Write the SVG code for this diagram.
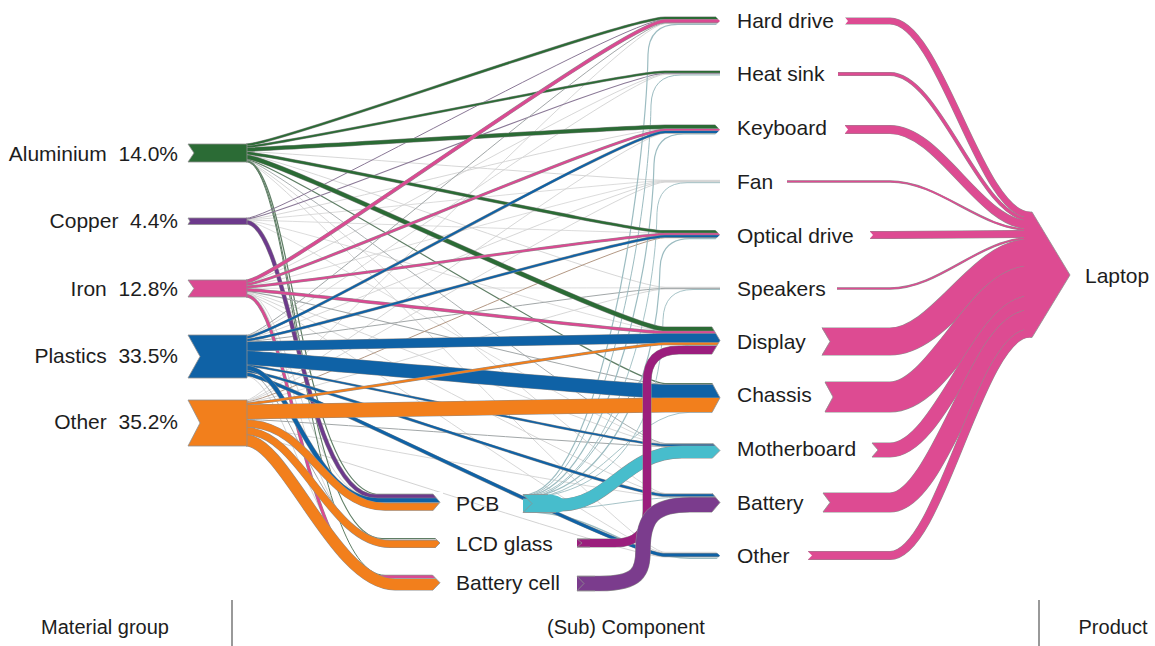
<svg xmlns="http://www.w3.org/2000/svg" xmlns:xlink="http://www.w3.org/1999/xlink" width="1155" height="646" viewBox="0 0 1155 646">
<style>
.k{fill:none}
.o{stroke:#8f8f8f}
.al{stroke:#2b6b35}.cu{stroke:#6d3a8c}.fe{stroke:#da4a92}.pl{stroke:#0f62a6}.ot{stroke:#f27f1c}
.pcb{stroke:#47bdcc}.lcd{stroke:#9b1e7d}.bc{stroke:#7b3c8d}.lap{stroke:#dd4b92}
.g1{stroke:#d3d3d3}.g2{stroke:#a2a7a8}.ga{stroke:#5f7e65}.gc{stroke:#8a7896}.go{stroke:#b39884}.gy{stroke:#9cbcc1}
.m{fill:#fff}
.e{fill:none;stroke:#8f8f8f;stroke-width:0.8}
text{font-family:"Liberation Sans",Arial,Helvetica,sans-serif;font-size:21px;fill:#1d1d1d}
.ax{font-size:20px}
</style>
<defs>
<!-- material to component -->
<path id="alhd" d="M246 145C276 145 625 18 665 18H720"/>
<path id="alhs" d="M246 146.9C276 146.9 625 71.9 665 71.9H720"/>
<path id="alkb" d="M246 149.5C276 149.5 625 126.8 665 126.8H720"/>
<path id="alod" d="M246 153.1C276 153.1 625 231.8 665 231.8H720"/>
<path id="aldi" d="M246 157C276 157 625 329 665 329H720"/>
<path id="cupcb" d="M246 222.3C290 222.3 305 496.2 375 496.2H440"/>
<path id="fehd" d="M246 281.5C276 281.5 625 21.1 665 21.1H720"/>
<path id="fekb" d="M246 284.5C276 284.5 625 129.9 665 129.9H720"/>
<path id="feod" d="M246 287C276 287 625 234.3 665 234.3H720"/>
<path id="fedi" d="M246 289.8C276 289.8 625 332.5 665 332.5H720"/>
<path id="febc" d="M246 295.8C288 295.8 305 576.8 375 576.8H440"/>
<path id="plkb" d="M246 337.3C276 337.3 625 131.9 665 131.9H720"/>
<path id="plod" d="M246 340C276 340 625 236.3 665 236.3H720"/>
<path id="pldi" d="M246 346.5C276 346.5 625 338.3 665 338.3H720"/>
<path id="plch" d="M246 357.8C276 357.8 625 391.5 665 391.5H720"/>
<path id="plmb" d="M246 365.3C276 365.3 625 445.2 665 445.2H720"/>
<path id="plba" d="M246 370.8C276 370.8 625 495.2 665 495.2H720"/>
<path id="plot" d="M246 374.3C276 374.3 625 555 665 555H720"/>
<path id="plpcb" d="M246 367.8C290 367.8 310 500.2 378 500.2H440"/>
<path id="otdi" d="M246 403.8C276 403.8 625 343.8 665 343.8H720"/>
<path id="otch" d="M246 412C276 412 625 405 665 405H720"/>
<path id="otpcb" d="M246 423.5C310 423.5 325 506.7 385 506.7H440"/>
<path id="otlcd" d="M246 431.1C300 431.1 330 544 390 544H440"/>
<path id="otbc" d="M246 440.5C285 440.5 335 584.5 395 584.5H440"/>
<!-- sub-component to component -->
<path id="pcbmb" d="M523 505H560C610 505 625 452 682 452H720"/>
<path id="lcddi" d="M577 543H615Q647 543 647 511V382Q647 350 679 350H720"/>
<path id="bcba" d="M577 583.5H600C638 583.5 643 572 643 550C643 518 653 504.75 690 504.75H720"/>
<!-- component to product -->
<path id="lhd" d="M845 21H890C940 21 980 215 1030 215"/>
<path id="lhs" d="M838 74H890C940 74 980 219.5 1030 219.5"/>
<path id="lkb" d="M845 129.5H890C940 129.5 980 225 1030 225"/>
<path id="lfan" d="M787 181.5H890C940 181.5 980 229.75 1030 229.75"/>
<path id="lod" d="M870 235H890C940 235 980 234 1030 234"/>
<path id="lsp" d="M837 288.5H890C940 288.5 980 238.25 1030 238.25"/>
<path id="ldi" d="M822 341.5H890C940 341.5 980 252.5 1030 252.5"/>
<path id="lch" d="M825 397H890C940 397 980 281 1030 281"/>
<path id="lmb" d="M872 450H890C940 450 980 303 1030 303"/>
<path id="lba" d="M823 502.5H890C940 502.5 980 319.5 1030 319.5"/>
<path id="lot" d="M808 555.5H890C940 555.5 980 333 1030 333"/>
</defs>

<g id="connectors" class="k">
  <!-- faint minor flows -->
  <path class="g1" stroke-width="0.9" d="M246 151.6C276 151.6 625 180.3 665 180.3H720"/>
  <path class="g1" stroke-width="0.9" d="M246 154.7C276 154.7 625 287.3 665 287.3H720"/>
  <path class="g1" stroke-width="0.9" d="M246 161.5C276 161.5 625 493.5 665 493.5H720"/>
  <path class="g1" stroke-width="0.9" d="M246 161.8C276 161.8 625 552.3 665 552.3H720"/>
  <path class="g1" stroke-width="0.9" d="M246 219.6C276 219.6 625 128.7 665 128.7H720"/>
  <path class="g1" stroke-width="0.8" d="M246 219.9C276 219.9 625 180.8 665 180.8H720"/>
  <path class="g1" stroke-width="0.8" d="M246 220.2C276 220.2 625 233.1 665 233.1H720"/>
  <path class="g1" stroke-width="0.8" d="M246 220.5C276 220.5 625 331.1 665 331.1H720"/>
  <path class="g1" stroke-width="0.8" d="M246 220.8C276 220.8 625 443.9 665 443.9H720"/>
  <path class="g1" stroke-width="0.9" d="M246 283.2C276 283.2 625 73.9 665 73.9H720"/>
  <path class="g1" stroke-width="0.8" d="M246 285.8C276 285.8 625 181.1 665 181.1H720"/>
  <path class="g1" stroke-width="0.8" d="M246 288.3C276 288.3 625 287.8 665 287.8H720"/>
  <path class="g1" stroke-width="0.9" d="M246 292.3C276 292.3 625 444.2 665 444.2H720"/>
  <path class="g1" stroke-width="0.9" d="M246 293.3C276 293.3 625 493.9 665 493.9H720"/>
  <path class="g1" stroke-width="0.9" d="M246 294.3C276 294.3 625 553 665 553H720"/>
  <path class="g1" stroke-width="0.9" d="M246 292.8C288 292.8 305 497.9 375 497.9H440"/>
  <path class="g1" stroke-width="0.9" d="M246 293.8C288 293.8 305 539.2 378 539.2H440"/>
  <path class="g1" stroke-width="0.9" d="M246 336C276 336 625 74.4 665 74.4H720"/>
  <path class="g1" stroke-width="0.9" d="M246 338.6C276 338.6 625 181.6 665 181.6H720"/>
  <path class="g1" stroke-width="1" d="M246 376.3C285 376.3 320 578.4 385 578.4H440"/>
  <path class="g1" stroke-width="0.9" d="M246 400.3C276 400.3 625 23.6 665 23.6H720"/>
  <path class="g1" stroke-width="0.9" d="M246 400.8C276 400.8 625 133.2 665 133.2H720"/>
  <path class="g1" stroke-width="0.9" d="M246 401.3C276 401.3 625 182.1 665 182.1H720"/>
  <path class="g1" stroke-width="0.9" d="M246 402.5C276 402.5 625 289 665 289H720"/>
  <path class="g1" stroke-width="0.9" d="M246 427.3C276 427.3 625 496.5 665 496.5H720"/>
  <path class="g1" stroke-width="1" d="M246 435C276 435 625 557 665 557H720"/>
  <!-- small tinted flows -->
  <path class="g2" stroke-width="0.9" d="M246 160.3C276 160.3 625 443.5 665 443.5H720"/>
  <path class="ga" stroke-width="1.2" d="M246 159.5C276 159.5 625 383.5 665 383.5H720"/>
  <path class="ga" stroke-width="1.2" d="M246 160.9C292 160.9 300 494.4 380 494.4H440"/>
  <path class="ga" stroke-width="1.1" d="M246 161.3C292 161.3 302 538.5 382 538.5H440"/>
  <path class="ga" stroke-width="1" d="M246 161.7C292 161.7 305 575.3 385 575.3H440"/>
  <path class="gc" stroke-width="1" d="M246 218.3C276 218.3 625 19.3 665 19.3H720"/>
  <path class="gc" stroke-width="1.1" d="M246 219C276 219 625 73.2 665 73.2H720"/>
  <path class="g2" stroke-width="1.1" d="M246 291.5C276 291.5 625 384.5 665 384.5H720"/>
  <path class="g2" stroke-width="1" d="M246 335.4C276 335.4 625 23 665 23H720"/>
  <path class="g2" stroke-width="1" d="M246 341.4C276 341.4 625 288.4 665 288.4H720"/>
  <path class="g2" stroke-width="1" d="M246 372.3C285 372.3 320 540 385 540H440"/>
  <path class="go" stroke-width="1" d="M246 401.9C276 401.9 625 237.7 665 237.7H720"/>
  <path class="g2" stroke-width="1" d="M246 419.4C276 419.4 625 446.4 665 446.4H720"/>
  <!-- PCB to components -->
  <path class="gy" stroke-width="1.2" d="M523 495C600 495 646 174.4 648 54.4Q649 24.4 678 24.4H720"/>
  <path class="gy" stroke-width="1" d="M523 495.6C600 495.6 649 225 651 105Q652 75 681 75H720"/>
  <path class="gy" stroke-width="1.2" d="M523 496.2C600 496.2 652 283.9 654 163.9Q655 133.9 684 133.9H720"/>
  <path class="gy" stroke-width="0.9" d="M523 496.7C600 496.7 655 332.7 657 212.7Q658 182.7 687 182.7H720"/>
  <path class="gy" stroke-width="1.2" d="M523 497.2C600 497.2 658 388.6 660 268.6Q661 238.6 690 238.6H720"/>
  <path class="gy" stroke-width="0.9" d="M523 497.6C600 497.6 661 439.5 663 319.5Q664 289.5 693 289.5H720"/>
  <path class="gy" stroke-width="1" d="M523 498C600 498 630 345.3 690 345.3H720"/>
  <path class="gy" stroke-width="0.9" d="M523 498.5C600 498.5 630 412.3 690 412.3H720"/>
  <path class="gy" stroke-width="0.9" d="M523 510.8C600 510.8 630 497 690 497H720"/>
  <path class="gy" stroke-width="1.5" d="M523 511.8C600 511.8 630 558.2 690 558.2H720"/>
  <!-- Aluminium -->
  <use href="#alhd" class="o" stroke-width="3"/><use href="#alhd" class="al" stroke-width="2"/>
  <use href="#alhs" class="o" stroke-width="2.8"/><use href="#alhs" class="al" stroke-width="1.8"/>
  <use href="#alkb" class="o" stroke-width="4.5"/><use href="#alkb" class="al" stroke-width="3.5"/>
  <use href="#alod" class="o" stroke-width="3.5"/><use href="#alod" class="al" stroke-width="2.5"/>
  <use href="#aldi" class="o" stroke-width="5"/><use href="#aldi" class="al" stroke-width="4"/>
  <!-- Copper -->
  <use href="#cupcb" class="o" stroke-width="4.5"/><use href="#cupcb" class="cu" stroke-width="3.5"/>
  <!-- Iron -->
  <use href="#fehd" class="o" stroke-width="4"/><use href="#fehd" class="fe" stroke-width="3"/>
  <use href="#fekb" class="o" stroke-width="3"/><use href="#fekb" class="fe" stroke-width="2"/>
  <use href="#feod" class="o" stroke-width="3"/><use href="#feod" class="fe" stroke-width="2"/>
  <use href="#fedi" class="o" stroke-width="3.5"/><use href="#fedi" class="fe" stroke-width="2.5"/>
  <use href="#febc" class="o" stroke-width="3.5"/><use href="#febc" class="fe" stroke-width="2.5"/>
  <!-- Plastics -->
  <use href="#plkb" class="o" stroke-width="3"/><use href="#plkb" class="pl" stroke-width="2"/>
  <use href="#plod" class="o" stroke-width="3"/><use href="#plod" class="pl" stroke-width="2"/>
  <use href="#plmb" class="o" stroke-width="2.5"/><use href="#plmb" class="pl" stroke-width="1.5"/>
  <use href="#plba" class="o" stroke-width="3"/><use href="#plba" class="pl" stroke-width="2"/>
  <use href="#plot" class="o" stroke-width="4"/><use href="#plot" class="pl" stroke-width="3"/>
  <use href="#plpcb" class="o" stroke-width="5"/><use href="#plpcb" class="pl" stroke-width="4"/>
  <use href="#pldi" class="o" stroke-width="10"/><use href="#pldi" class="pl" stroke-width="9"/>
  <use href="#plch" class="o" stroke-width="14.5"/><use href="#plch" class="pl" stroke-width="13.5"/>
  <!-- Other -->
  <use href="#otdi" class="o" stroke-width="3"/><use href="#otdi" class="ot" stroke-width="2"/>
  <use href="#otch" class="o" stroke-width="15"/><use href="#otch" class="ot" stroke-width="14"/>
  <use href="#otpcb" class="o" stroke-width="8"/><use href="#otpcb" class="ot" stroke-width="7"/>
  <use href="#otlcd" class="o" stroke-width="8"/><use href="#otlcd" class="ot" stroke-width="7"/>
  <use href="#otbc" class="o" stroke-width="12"/><use href="#otbc" class="ot" stroke-width="11"/>
  <!-- sub-components -->
  <use href="#pcbmb" class="o" stroke-width="13"/><use href="#pcbmb" class="pcb" stroke-width="12"/>
  <use href="#lcddi" class="o" stroke-width="9"/><use href="#lcddi" class="lcd" stroke-width="8"/>
  <use href="#bcba" class="o" stroke-width="15.5"/><use href="#bcba" class="bc" stroke-width="14.5"/>
  <!-- components to laptop -->
  <use href="#lhd" class="o" stroke-width="7"/><use href="#lhd" class="lap" stroke-width="6"/>
  <use href="#lhs" class="o" stroke-width="4"/><use href="#lhs" class="lap" stroke-width="3"/>
  <use href="#lkb" class="o" stroke-width="9"/><use href="#lkb" class="lap" stroke-width="8"/>
  <use href="#lfan" class="o" stroke-width="2.3"/><use href="#lfan" class="lap" stroke-width="1.5"/>
  <use href="#lod" class="o" stroke-width="8"/><use href="#lod" class="lap" stroke-width="7"/>
  <use href="#lsp" class="o" stroke-width="2.3"/><use href="#lsp" class="lap" stroke-width="1.5"/>
  <use href="#ldi" class="o" stroke-width="28"/><use href="#ldi" class="lap" stroke-width="27"/>
  <use href="#lch" class="o" stroke-width="31"/><use href="#lch" class="lap" stroke-width="30"/>
  <use href="#lmb" class="o" stroke-width="15"/><use href="#lmb" class="lap" stroke-width="14"/>
  <use href="#lba" class="o" stroke-width="20"/><use href="#lba" class="lap" stroke-width="19"/>
  <use href="#lot" class="o" stroke-width="9"/><use href="#lot" class="lap" stroke-width="8"/>
</g>

<!-- material groups -->
<g id="node-aluminium">
  <polygon points="188,144 247,144 247,162 188,162 194,153" fill="#2b6b35" stroke="#8f8f8f" stroke-width="0.8"/>
  <text x="178" y="160.5" text-anchor="end" xml:space="preserve">Aluminium  14.0%</text>
</g>
<g id="node-copper">
  <polygon points="188,218 247,218 247,224.5 188,224.5 190,221.2" fill="#6d3a8c" stroke="#8f8f8f" stroke-width="0.8"/>
  <text x="178" y="228" text-anchor="end" xml:space="preserve">Copper  4.4%</text>
</g>
<g id="node-iron">
  <polygon points="188,280 247,280 247,297 188,297 194,288.5" fill="#da4a92" stroke="#8f8f8f" stroke-width="0.8"/>
  <text x="178" y="295.5" text-anchor="end" xml:space="preserve">Iron  12.8%</text>
</g>
<g id="node-plastics">
  <polygon points="188,335 247,335 247,378 188,378 200,356.5" fill="#0f62a6" stroke="#8f8f8f" stroke-width="0.8"/>
  <text x="178" y="363" text-anchor="end" xml:space="preserve">Plastics  33.5%</text>
</g>
<g id="node-other-material">
  <polygon points="188,400 247,400 247,446 188,446 200,423" fill="#f27f1c" stroke="#8f8f8f" stroke-width="0.8"/>
  <text x="178" y="429" text-anchor="end" xml:space="preserve">Other  35.2%</text>
</g>

<!-- sub-components -->
<g id="node-pcb">
  <polygon class="m" points="433,492 443,492 443,502.25 440,502.25 433,494"/>
  <polygon class="m" points="433,512.5 443,512.5 443,502.25 440,502.25 433,510.5"/>
  <polyline class="e" points="433,494 440,502.25 433,510.5"/>
  <path d="M523 494.5H548C556 494.5 560 497 563 499V511C561 511.5 560 512.5 556 512.5H523L532 503.5Z" fill="#47bdcc"/>
  <polyline class="e" points="548,494.5 523,494.5 532,503.5 523,512.5 556,512.5"/>
  <text x="456" y="510.5">PCB</text>
</g>
<g id="node-lcd-glass">
  <polygon class="m" points="435,536 443,536 443,543 440,543 435,538"/>
  <polygon class="m" points="435,550 443,550 443,543 440,543 435,548"/>
  <polyline class="e" points="435,538 440,543 435,548"/>
  <polygon points="577,539 590,539 590,547 577,547 582,543" fill="#9b1e7d"/>
  <polyline class="e" points="590,539 577,539 582,543 577,547 590,547"/>
  <text x="456" y="550.5">LCD glass</text>
</g>
<g id="node-battery-cell">
  <polygon class="m" points="432.5,573 443,573 443,582.75 440,582.75 432.5,575"/>
  <polygon class="m" points="432.5,593 443,593 443,582.75 440,582.75 432.5,590.5"/>
  <polyline class="e" points="432.5,575 440,582.75 432.5,590.5"/>
  <polygon points="577,576.25 595,576.25 595,590.75 577,590.75 584,583.5" fill="#7b3c8d"/>
  <polyline class="e" points="595,576.25 577,576.25 584,583.5 577,590.75 595,590.75"/>
  <text x="456" y="590">Battery cell</text>
</g>

<!-- components -->
<g id="node-hard-drive">
  <polygon class="m" points="716,15 723,15 723,21 720,21 716,17"/>
  <polygon class="m" points="716,27 723,27 723,21 720,21 716,25"/>
  <polygon class="m" points="844,16 848,21 844,26"/>
  <text x="737" y="27.5">Hard drive</text>
</g>
<g id="node-heat-sink">
  <text x="737" y="80.5">Heat sink</text>
</g>
<g id="node-keyboard">
  <polygon class="m" points="715.3,123 723,123 723,129.7 720,129.7 715.3,125"/>
  <polygon class="m" points="715.3,136.4 723,136.4 723,129.7 720,129.7 715.3,134.4"/>
  <polygon class="m" points="844,124.5 848,129.5 844,134.5"/>
  <text x="737" y="135">Keyboard</text>
</g>
<g id="node-fan">
  <text x="737" y="188.5">Fan</text>
</g>
<g id="node-optical-drive">
  <polygon class="m" points="715.75,228.5 723,228.5 723,234.75 720,234.75 715.75,230.5"/>
  <polygon class="m" points="715.75,241 723,241 723,234.75 720,234.75 715.75,239"/>
  <polygon class="m" points="869,230.5 873,235 869,239.5"/>
  <text x="737" y="242.5">Optical drive</text>
</g>
<g id="node-speakers">
  <text x="737" y="295.5">Speakers</text>
</g>
<g id="node-display">
  <polygon class="m" points="712,325 723,325 723,340.5 720,340.5 712,327"/>
  <polygon class="m" points="712,356 723,356 723,340.5 720,340.5 712,354"/>
  <polyline class="e" points="712,327 720,340.5 712,354"/>
  <polygon class="m" points="821,327 830,341.5 821,356"/>
  <polyline class="e" points="822,327.5 830,341.5 822,355.5"/>
  <text x="737" y="348.5">Display</text>
</g>
<g id="node-chassis">
  <polygon class="m" points="712,381 723,381 723,397.75 720,397.75 712,383"/>
  <polygon class="m" points="712,414.5 723,414.5 723,397.75 720,397.75 712,412.5"/>
  <polyline class="e" points="712,383 720,397.75 712,412.5"/>
  <polygon class="m" points="824,381 833,397 824,413"/>
  <polyline class="e" points="825,382 833,397 825,412"/>
  <text x="737" y="401.5">Chassis</text>
</g>
<g id="node-motherboard">
  <polygon class="m" points="712.5,441 723,441 723,450.5 720,450.5 712.5,443"/>
  <polygon class="m" points="712.5,460 723,460 723,450.5 720,450.5 712.5,458"/>
  <polyline class="e" points="712.5,443 720,450.5 712.5,458"/>
  <polygon class="m" points="871,442 878,450 871,458"/>
  <polyline class="e" points="872,443 878,450 872,457"/>
  <text x="737" y="455.5">Motherboard</text>
</g>
<g id="node-battery">
  <polygon class="m" points="712,491 723,491 723,502.5 720,502.5 712,493"/>
  <polygon class="m" points="712,514 723,514 723,502.5 720,502.5 712,512"/>
  <polyline class="e" points="712,493 720,502.5 712,512"/>
  <polygon class="m" points="822,492 830,502.5 822,513"/>
  <polyline class="e" points="823,493 830,502.5 823,512"/>
  <text x="737" y="509.5">Battery</text>
</g>
<g id="node-other-component">
  <polygon class="m" points="716.25,550 723,550 723,555.75 720,555.75 716.25,552"/>
  <polygon class="m" points="716.25,561.5 723,561.5 723,555.75 720,555.75 716.25,559.5"/>
  <polygon class="m" points="807,550.5 812,555.5 807,560.5"/>
  <text x="737" y="563">Other</text>
</g>

<!-- product -->
<g id="node-laptop">
  <polygon points="1024,212 1032,212 1070,275 1032,337.5 1024,337.5" fill="#dd4b92"/>
  <polyline class="e" points="1030,212 1032,212 1070,275 1032,337.5 1030,337.5"/>
  <text x="1085" y="282.5">Laptop</text>
</g>

<!-- column headings -->
<g id="axis">
  <line x1="232" y1="600" x2="232" y2="646" stroke="#555" stroke-width="1.2"/>
  <line x1="1039" y1="600" x2="1039" y2="646" stroke="#555" stroke-width="1.2"/>
  <text class="ax" x="105" y="634" text-anchor="middle">Material group</text>
  <text class="ax" x="626" y="634" text-anchor="middle">(Sub) Component</text>
  <text class="ax" x="1113" y="634" text-anchor="middle">Product</text>
</g>
</svg>
